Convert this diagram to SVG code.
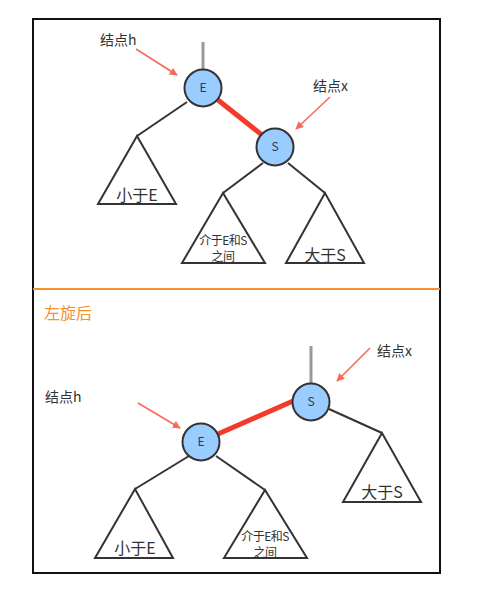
<svg xmlns="http://www.w3.org/2000/svg" width="496" height="596" viewBox="0 0 496 596">
<style>
text{font-family:"Noto Sans CJK SC","Noto Sans",sans-serif;fill:#333}
.lbl{font-size:14px}
.big{font-size:16px;text-anchor:middle}
.small{font-size:12px;text-anchor:middle;letter-spacing:-0.5px}
.node circle{fill:#99ccff;stroke:#333;stroke-width:2}
.node text{font-size:12px;text-anchor:middle;fill:#2a3a55}
.edge{stroke:#333;stroke-width:2;fill:none}
.tri{stroke:#333;stroke-width:2;fill:#fff;stroke-linejoin:miter}
.red{stroke:#f43a2a;stroke-width:5}
.gray{stroke:#999;stroke-width:3}
.ptr{stroke:#f8695a;stroke-width:1.6;marker-end:url(#ah)}
</style>
<defs>
<marker id="ah" viewBox="0 0 10 10" refX="9" refY="5" markerWidth="8" markerHeight="8" markerUnits="userSpaceOnUse" orient="auto">
<path d="M0,0 L10,5 L0,10 z" fill="#f8695a"/>
</marker>
</defs>
<rect x="0" y="0" width="496" height="596" fill="#fff"/>
<rect x="33" y="19" width="407" height="554" fill="none" stroke="#111" stroke-width="2"/>
<line x1="33" y1="289" x2="440" y2="289" stroke="#f5922f" stroke-width="2"/>
<text x="44" y="319" style="font-size:16px;fill:#f5922f">左旋后</text>

<g id="connectors">
<line class="gray" x1="203" y1="42" x2="203" y2="70"/>
<line class="red" x1="218" y1="100" x2="262" y2="135"/>
<polyline class="edge" points="187,102 137,136"/>
<polyline class="edge" points="263,163 223,193"/>
<polyline class="edge" points="288,163 325,193"/>
<line class="ptr" x1="136" y1="49" x2="177" y2="75"/>
<line class="ptr" x1="330" y1="97" x2="296" y2="129"/>

<line class="gray" x1="311" y1="346" x2="311" y2="383"/>
<line class="red" x1="218" y1="434" x2="293" y2="401"/>
<polyline class="edge" points="189,456 135,489"/>
<polyline class="edge" points="216,456 265,490"/>
<polyline class="edge" points="329,409 382,433"/>
<line class="ptr" x1="138" y1="403" x2="180" y2="428"/>
<line class="ptr" x1="370" y1="348" x2="337" y2="381"/>
</g>

<g id="subtree-less-E-top"><polygon class="tri" points="137,136 98,204 176,204"/><text class="big" x="137" y="201">小于E</text></g>
<g id="subtree-between-top"><polygon class="tri" points="223,193 182,263 265,263"/><text class="small" x="223" y="245">介于E和S</text><text class="small" x="223" y="261">之间</text></g>
<g id="subtree-greater-S-top"><polygon class="tri" points="325,193 286,263 364,263"/><text class="big" x="325" y="261">大于S</text></g>

<g id="node-E-top" class="node"><circle cx="203" cy="88" r="18.5"/><text x="203" y="92">E</text></g>
<g id="node-S-top" class="node"><circle cx="275" cy="147" r="18.5"/><text x="275" y="151">S</text></g>

<g id="label-h-top"><text class="lbl" x="100" y="45">结点h</text></g>
<g id="label-x-top"><text class="lbl" x="313" y="91">结点x</text></g>

<g id="subtree-less-E-bot"><polygon class="tri" points="135,489 95,558 173,558"/><text class="big" x="135" y="554">小于E</text></g>
<g id="subtree-between-bot"><polygon class="tri" points="265,490 224,558 307,558"/><text class="small" x="265" y="541">介于E和S</text><text class="small" x="265" y="557">之间</text></g>
<g id="subtree-greater-S-bot"><polygon class="tri" points="382,433 343,502 421,502"/><text class="big" x="382" y="498">大于S</text></g>

<g id="node-S-bot" class="node"><circle cx="311" cy="402" r="18.5"/><text x="311" y="406">S</text></g>
<g id="node-E-bot" class="node"><circle cx="201" cy="442" r="18.5"/><text x="201" y="446">E</text></g>

<g id="label-h-bot"><text class="lbl" x="45" y="402">结点h</text></g>
<g id="label-x-bot"><text class="lbl" x="377" y="356">结点x</text></g>
</svg>
